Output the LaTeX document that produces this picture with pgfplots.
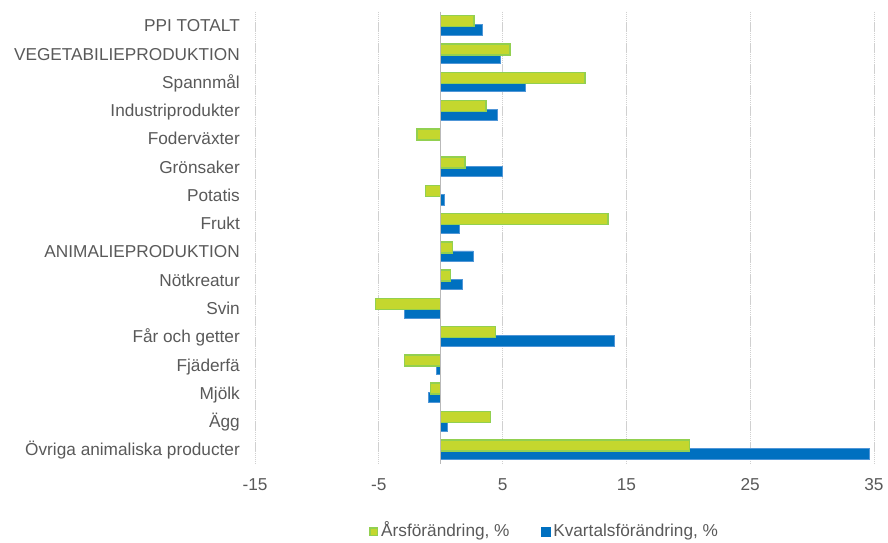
\documentclass[border=0pt]{standalone}
\usepackage{fontspec}
\setmainfont{Liberation Sans}
\usepackage{pgfplots}
\pgfplotsset{compat=1.18}

\definecolor{greenfill}{RGB}{196,215,46}
\definecolor{greenedge}{RGB}{146,208,80}
\definecolor{bluefill}{RGB}{0,112,192}
\definecolor{blueedge}{RGB}{80,150,215}
\definecolor{txt}{HTML}{595959}
\definecolor{gridc}{HTML}{D0D0D0}

\begin{document}
\begin{tikzpicture}
\path[use as bounding box] (0bp,0bp) rectangle (888bp,543bp);
\begin{axis}[
    at={(255bp,79.2bp)}, anchor=south west,
    scale only axis,
    width=619bp, height=452.3bp,
    xmin=-15, xmax=35,
    ymin=-0.5, ymax=15.5,
    y dir=reverse,
    xbar,
    axis line style={draw=none},
    major tick length=0pt,
    xtick={-15,-5,5,15,25,35},
    xticklabels={-15,-5,5,15,25,35},
    ytick={0,...,15},
    yticklabels={PPI TOTALT, VEGETABILIEPRODUKTION, Spannmål,
      Industriprodukter, Foderväxter, Grönsaker, Potatis, Frukt,
      ANIMALIEPRODUKTION, Nötkreatur, {Svin\ }, Får och getter,
      Fjäderfä, Mjölk, Ägg, Övriga animaliska producter},
    tick label style={font=\fontsize{17.3}{20}\selectfont, text=txt, inner sep=0pt},
    xticklabel style={anchor=base, yshift=-26.9bp},
    yticklabel style={anchor=base east, xshift=-15bp, yshift=-6.2bp},
    xmajorgrids,
    major grid style={gridc, line width=1bp, dash pattern=on 1.5bp off 0.6bp},
    reverse legend,
    legend columns=2,
    legend style={at={(0.1842,-0.1464)}, anchor=west, draw=none, fill=none,
      inner sep=0pt, font=\fontsize{17.3}{20}\selectfont, text=txt,
      nodes={inner sep=0pt, anchor=base}, column sep=3bp,
      /tikz/column 2/.style={column sep=31bp}},
]
\addplot[xbar, bar width=10.5bp, bar shift=-4.4bp, fill=bluefill, draw=blueedge, line width=0.7bp,
  legend image code/.code={\fill[bluefill] (0bp,0.7bp) rectangle (9bp,9.7bp);}]
  coordinates {
    (3.4,0) (4.85,1) (6.8,2) (4.57,3) (4.98,5) (0.3,6) (1.48,7)
    (2.64,8) (1.72,9) (-2.94,10) (14.0,11) (-0.32,12) (-0.97,13) (0.53,14) (34.6,15)
  };
\addlegendentry{Kvartalsförändring, \%}
\addplot[xbar, bar width=11bp, bar shift=4.4bp, fill=greenfill, draw=greenedge, line width=1.5bp,
  legend image code/.code={\draw[draw=greenedge, fill=greenfill, line width=1.5bp]
    (0.75bp,1.45bp) rectangle (8.25bp,8.95bp);}]
  coordinates {
    (2.7,0) (5.6,1) (11.65,2) (3.66,3) (-1.9,4) (1.96,5) (-1.24,6) (13.5,7)
    (0.94,8) (0.8,9) (-5.25,10) (4.44,11) (-2.94,12) (-0.84,13) (4.04,14) (20.1,15)
  };
\addlegendentry{Årsförändring, \%}
\draw[gray!55, line width=1bp] (axis cs:0,-0.5) -- (axis cs:0,15.5);
\end{axis}
\end{tikzpicture}
\end{document}
